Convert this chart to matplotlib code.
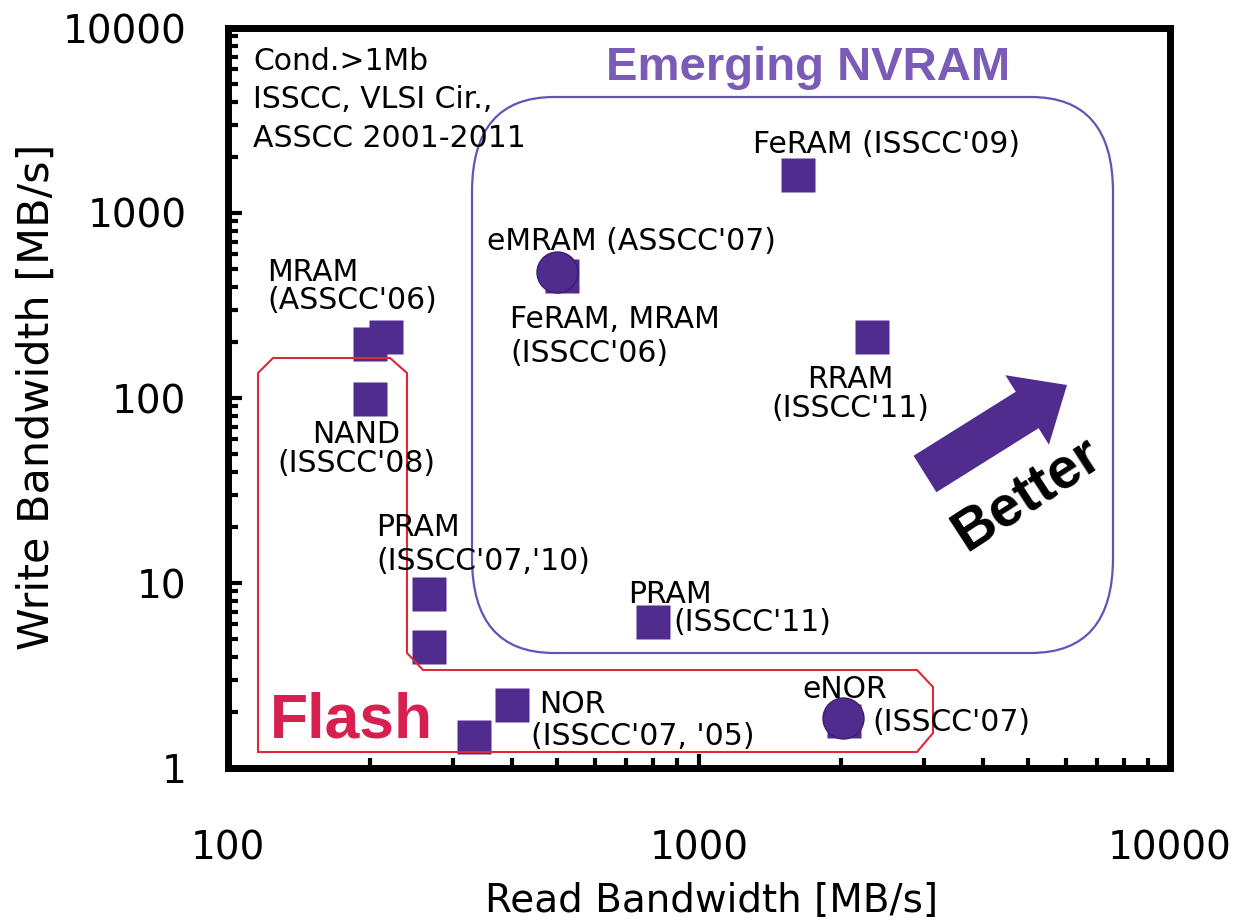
import numpy as np
import matplotlib
matplotlib.use("Agg")
import matplotlib.pyplot as plt
from matplotlib.patches import FancyBboxPatch, Polygon, FancyArrow
from matplotlib.transforms import Affine2D
from matplotlib.ticker import FixedLocator, FixedFormatter, LogLocator, NullFormatter

# ---------------- data (read / write bandwidth, MB/s) ----------------
square_read = [200, 217, 200, 267, 267, 798, 401, 333, 1623, 2330, 512, 2030]
square_write = [196, 214, 99, 8.7, 4.5, 6.15, 2.19, 1.47, 1604, 214, 455, 1.80]
circle_read = [499, 2022]
circle_write = [480, 1.86]

x_ticks = [100, 1000, 10000]
x_tick_labels = ["100", "1000", "10000"]
y_ticks = [1, 10, 100, 1000, 10000]
y_tick_labels = ["1", "10", "100", "1000", "10000"]

x_label = "Read Bandwidth [MB/s]"
y_label = "Write Bandwidth [MB/s]"

# ---------------- styles ----------------
MARK = "#4F2C8E"
BOXP = "#6652B6"
TITLEP = "#7A5CB8"
RED = "#DC2837"
FLASH = "#D6204F"

W, H = 1243, 921
L, R, T, B = 228, 1170, 28, 768

fig = plt.figure(figsize=(W / 100, H / 100), dpi=100)
ax = fig.add_axes([L / W, (H - B) / H, (R - L) / W, (B - T) / H])

ax.set_xscale("log")
ax.set_yscale("log")
ax.set_xlim(x_ticks[0], x_ticks[-1])
ax.set_ylim(y_ticks[0], y_ticks[-1])

ax.xaxis.set_major_locator(FixedLocator(x_ticks))
ax.xaxis.set_major_formatter(FixedFormatter(x_tick_labels))
ax.yaxis.set_major_locator(FixedLocator(y_ticks))
ax.yaxis.set_major_formatter(FixedFormatter(y_tick_labels))
for axis in (ax.xaxis, ax.yaxis):
    axis.set_minor_locator(LogLocator(base=10, subs=np.arange(2, 10)))
    axis.set_minor_formatter(NullFormatter())

for s in ax.spines.values():
    s.set_linewidth(5)
    s.set_color("black")
ax.tick_params(which="both", direction="in", top=False, right=False,
               width=3, color="black")
ax.tick_params(which="major", length=10)
ax.tick_params(which="minor", length=7.5)
ax.tick_params(axis="x", which="major", labelsize=28, pad=44)
ax.tick_params(axis="y", which="major", labelsize=28, pad=30)

ax.set_xlabel(x_label, fontsize=28, family="DejaVu Sans")
ax.set_ylabel(y_label, fontsize=31, family="DejaVu Sans")
ax.xaxis.label.set_va("top")
ax.xaxis.set_label_coords((712 - L) / (R - L), (B - 882) / (B - T))
ax.yaxis.label.set_va("center")
ax.yaxis.set_label_coords((37 - L) / (R - L), (B - 397) / (B - T))

# pixel-like transform (reference image coordinates, y down)
px = Affine2D().translate(-L, -B).scale(1 / (R - L), -1 / (B - T)) + ax.transAxes

# ---------------- markers ----------------
ax.plot(square_read, square_write, linestyle="none", marker="s", ms=23.8,
        color=MARK, mec="none", zorder=2)
ax.plot(circle_read, circle_write, linestyle="none", marker="o", ms=29.5,
        color=MARK, mec="#3A1F6E", mew=1, zorder=2.5)

# ---------------- region outlines ----------------
bx0, bx1, by0, by1 = 472, 1113, 97, 653
rx, ry = 82 / (R - L), 95 / (B - T)
fx0 = (bx0 - L) / (R - L)
fy0 = (B - by1) / (B - T)
purple_box = FancyBboxPatch((fx0, fy0), (bx1 - bx0) / (R - L), (by1 - by0) / (B - T),
                            boxstyle=f"round,pad=0,rounding_size={rx}",
                            mutation_aspect=ry / rx, transform=ax.transAxes,
                            fill=False, ec=BOXP, lw=1.6, zorder=3)
ax.add_patch(purple_box)

red_outline = [(258, 373), (273, 358), (390, 358), (407, 373), (407, 653),
               (423, 670), (917, 670), (933, 687), (933, 733), (917, 752),
               (258, 752)]
ax.add_patch(Polygon(red_outline, closed=True, fill=False, ec=RED, lw=1.5,
                     transform=px, zorder=3))

# ---------------- arrow + text ----------------
ax.add_patch(FancyArrow(925, 474, 142, -89, width=43, head_width=82,
                        head_length=47, length_includes_head=True,
                        color=MARK, lw=0, transform=px, zorder=3))
ax.text(1027, 494, "Better", transform=px, rotation=33, rotation_mode="anchor",
        ha="center", va="center", fontsize=41, fontweight="bold",
        family="Liberation Sans", color="black", zorder=4)

ax.text(808, 80, "Emerging NVRAM", transform=px, ha="center", va="baseline",
        fontsize=34, fontweight="bold", family="Liberation Sans", color=TITLEP)
ax.text(270, 737, "Flash", transform=px, ha="left", va="baseline",
        fontsize=45, fontweight="bold", family="Liberation Sans", color=FLASH)

ax.text(253, 47, "Cond.>1Mb\nISSCC, VLSI Cir.,\nASSCC 2001-2011", transform=px,
        ha="left", va="top", fontsize=21.5, linespacing=1.41,
        family="DejaVu Sans", color="black")

LBL = 21.5
labels = [
    ("MRAM\n(ASSCC'06)", 267, 258, "left", 0.95),
    ("eMRAM (ASSCC'07)", 487, 227, "left", 1.0),
    ("FeRAM, MRAM\n(ISSCC'06)", 510, 305, "left", 1.23),
    ("FeRAM (ISSCC'09)", 753, 130, "left", 1.0),
    ("RRAM\n(ISSCC'11)", 850, 365, "center", 0.98),
    ("NAND\n(ISSCC'08)", 356, 420, "center", 1.02),
    ("PRAM\n(ISSCC'07,'10)", 376, 513, "left", 1.23),
    ("PRAM", 628, 580, "left", 1.0),
    ("(ISSCC'11)", 673, 608, "left", 1.0),
    ("NOR", 539, 690, "left", 1.0),
    ("(ISSCC'07, '05)", 531, 722, "left", 1.0),
    ("eNOR", 802, 675, "left", 1.0),
    ("(ISSCC'07)", 872, 708, "left", 1.0),
]
for txt, x, y, ha, ls in labels:
    ax.text(x, y, txt, transform=px, ha=ha, va="top",
            multialignment="center" if ha == "center" else "left",
            fontsize=LBL, linespacing=ls, family="DejaVu Sans", color="black",
            zorder=5)

fig.savefig("out.png", dpi=100, facecolor="white")
